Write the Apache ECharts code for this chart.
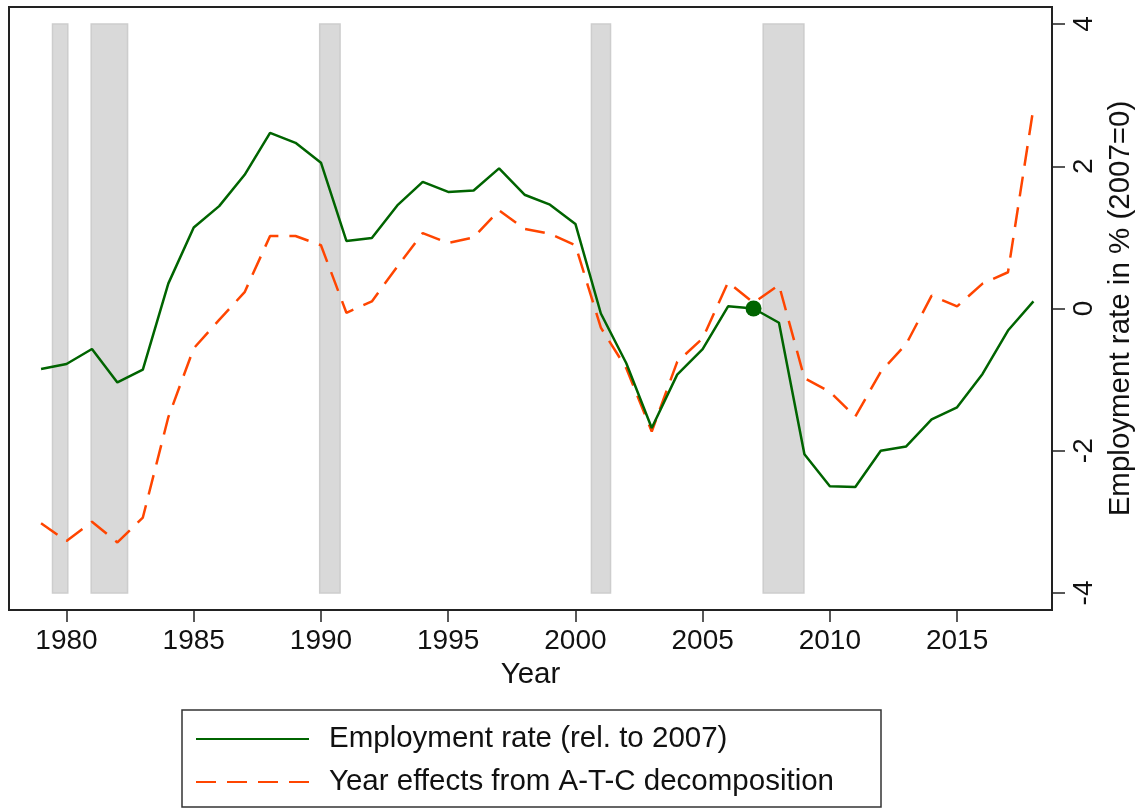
<!DOCTYPE html>
<html>
<head>
<meta charset="utf-8">
<script src="https://cdn.jsdelivr.net/npm/echarts@6/dist/echarts.min.js"></script>
<style>
  html, body { margin: 0; padding: 0; background: #fff; }
  #chart { width: 1140px; height: 808px; }
</style>
</head>
<body>
<div id="chart"></div>
<script>
// years 1979..2018
const years = [1979, 1980, 1981, 1982, 1983, 1984, 1985, 1986, 1987, 1988,
  1989, 1990, 1991, 1992, 1993, 1994, 1995, 1996, 1997, 1998,
  1999, 2000, 2001, 2002, 2003, 2004, 2005, 2006, 2007, 2008,
  2009, 2010, 2011, 2012, 2013, 2014, 2015, 2016, 2017, 2018];

const employment = [-0.85, -0.78, -0.57, -1.04, -0.86, 0.35, 1.14, 1.44, 1.88, 2.47,
  2.33, 2.05, 0.95, 0.99, 1.45, 1.78, 1.64, 1.66, 1.97, 1.60,
  1.46, 1.19, -0.07, -0.77, -1.68, -0.93, -0.57, 0.03, 0.0, -0.20,
  -2.05, -2.50, -2.51, -2.00, -1.94, -1.56, -1.39, -0.92, -0.31, 0.10];

const yearEffects = [-3.02, -3.27, -3.00, -3.29, -2.94, -1.53, -0.56, -0.16, 0.23, 1.02,
  1.02, 0.89, -0.06, 0.10, 0.59, 1.06, 0.92, 1.00, 1.38, 1.12,
  1.05, 0.89, -0.27, -0.84, -1.73, -0.75, -0.42, 0.37, 0.08, 0.33,
  -0.98, -1.17, -1.52, -0.89, -0.50, 0.18, 0.03, 0.35, 0.51, 2.82];

// shaded recession periods [start, end]
const recessions = [[1979.45, 1980.05], [1980.97, 1982.4], [1989.95, 1990.75],
  [2000.63, 2001.38], [2007.38, 2008.98]];

const xTicks = [1980, 1985, 1990, 1995, 2000, 2005, 2010, 2015];
const yTicks = [-4, -2, 0, 2, 4];

const baseYear = 2007;
const names = ['Employment rate (rel. to 2007)', 'Year effects from A-T-C decomposition'];

const font = 'Liberation Sans, Arial, Helvetica, sans-serif';
const green = '#006400';
const orange = '#ff4500';

const chart = echarts.init(document.getElementById('chart'));

const pairs = (vals) => years.map((y, i) => [y, vals[i]]);

chart.setOption({
  animation: false,
  textStyle: { fontFamily: font },
  grid: {
    left: 9, right: 88, top: 7, bottom: 198,
    outerBoundsMode: 'none',
    show: true, borderColor: '#222', borderWidth: 2
  },
  graphic: [{
    type: 'rect',
    shape: { x: 182, y: 710, width: 699, height: 97 },
    style: { fill: '#fff', stroke: '#333', lineWidth: 1.5 },
    z: 0
  }],
  legend: {
    data: names,
    orient: 'vertical',
    left: 195,
    top: 724,
    itemWidth: 113,
    itemHeight: 2,
    itemGap: 13,
    padding: 0,
    itemStyle: { opacity: 0 },
    textStyle: {
      fontFamily: font, fontSize: 29.5, color: '#111',
      lineHeight: 29, padding: [0, 0, 0, 15]
    },
    z: 5
  },
  xAxis: {
    type: 'value',
    min: 1977.74,
    max: 2018.73,
    name: 'Year',
    nameLocation: 'middle',
    nameGap: 49,
    nameTextStyle: { fontFamily: font, fontSize: 29.5, color: '#111' },
    splitLine: { show: false },
    axisLine: { onZero: false, lineStyle: { color: '#222', width: 2 } },
    axisTick: { length: 12, lineStyle: { color: '#222', width: 1.5 }, customValues: xTicks },
    axisLabel: {
      customValues: xTicks, fontSize: 28, color: '#111', margin: 17, fontFamily: font,
      formatter: (v) => String(v)
    }
  },
  yAxis: {
    type: 'value',
    position: 'right',
    min: -4.24,
    max: 4.24,
    name: 'Employment rate in % (2007=0)',
    nameLocation: 'middle',
    nameRotate: 90,
    nameGap: 51,
    nameTextStyle: { fontFamily: font, fontSize: 29.5, color: '#111' },
    splitLine: { show: false },
    axisLine: { show: true, onZero: false, lineStyle: { color: '#222', width: 2 } },
    axisTick: { show: true, length: 13, lineStyle: { color: '#222', width: 1.5 }, customValues: yTicks },
    axisLabel: {
      customValues: yTicks, rotate: 90, fontSize: 28, color: '#111', margin: 18, fontFamily: font,
      formatter: (v) => String(v)
    }
  },
  series: [
    {
      name: 'recessions',
      type: 'custom',
      z: 1,
      silent: true,
      data: recessions,
      encode: { x: [0, 1] },
      renderItem: function (params, api) {
        const p1 = api.coord([api.value(0), 4]);
        const p2 = api.coord([api.value(1), -4]);
        return {
          type: 'rect',
          shape: { x: p1[0], y: p1[1], width: p2[0] - p1[0], height: p2[1] - p1[1] },
          style: { fill: '#d9d9d9', stroke: '#cdcdcd', lineWidth: 1.5 }
        };
      }
    },
    {
      name: names[0],
      type: 'line',
      z: 3,
      data: pairs(employment),
      symbol: 'none',
      lineStyle: { color: green, width: 2.5 },
      itemStyle: { color: green },
      markPoint: {
        symbol: 'circle',
        symbolSize: 16,
        label: { show: false },
        itemStyle: { color: green },
        data: [{ coord: [baseYear, employment[years.indexOf(baseYear)]] }]
      }
    },
    {
      name: names[1],
      type: 'line',
      z: 2,
      data: pairs(yearEffects),
      symbol: 'none',
      lineStyle: { color: orange, width: 2.5, type: [20, 11] },
      itemStyle: { color: orange }
    }
  ]
});
</script>
</body>
</html>
